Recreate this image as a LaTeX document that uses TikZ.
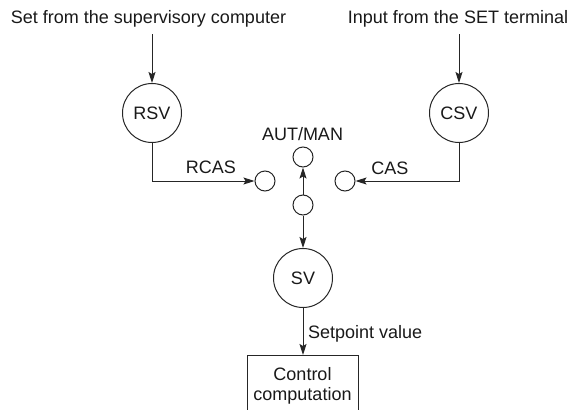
\documentclass[tikz,border=0pt]{standalone}
\usepackage{fontspec}
\setmainfont{Liberation Sans}
\usetikzlibrary{arrows.meta}
\begin{document}
\begin{tikzpicture}[x=1pt,y=-1pt,
  every node/.style={font=\fontsize{18}{21}\selectfont, text=black!90},
  ln/.style={draw=black!85, line width=1pt},
  arr/.style={ln, -{Stealth[length=11pt,width=7pt,inset=2pt]}},
  bigc/.style={circle, draw=black!85, line width=1pt, minimum size=59pt, inner sep=0pt},
  smc/.style={circle, draw=black!85, line width=1pt, minimum size=20pt, inner sep=0pt},
  lbl/.style={anchor=base, inner sep=0pt}]
\useasboundingbox (0,0) rectangle (574,410);
\clip (0,0) rectangle (574,410);
\node[lbl] (t1) at (148.5,23) {Set from the supervisory computer};
\node[lbl] (t2) at (458,23) {Input from the SET terminal};
\coordinate (s1) at (152,34);
\coordinate (s2) at (459,34);
\node[bigc] (rsv) at (152,113) {RSV};
\node[bigc] (csv) at (459,113) {CSV};
\node[smc] (l) at (265,181) {};
\node[smc] (r) at (345,181) {};
\node[smc] (a) at (303,157) {};
\node[smc] (p) at (303,205) {};
\node[bigc] (sv) at (303,278) {SV};
\node[lbl] (rcas) at (211,173) {RCAS};
\node[lbl] (cas) at (390,174) {CAS};
\node[lbl] (am) at (302.5,140) {AUT/MAN};
\node[lbl, anchor=base west] (spv) at (308,338) {Setpoint value};
\coordinate (bx1) at (247,355);
\coordinate (bx2) at (358,420);
\draw[ln] (bx1) rectangle (bx2);
\node[lbl] (c1) at (302.5,380) {Control};
\node[lbl] (c2) at (302.5,400) {computation};
\draw[arr] (s1) -- (rsv);
\draw[arr] (s2) -- (csv);
\draw[arr] (rsv.south) |- (l.west);
\draw[arr] (csv.south) |- (r.east);
\draw[arr] (p) -- (a);
\draw[arr] (p) -- (sv);
\draw[arr] (sv.south) -- (303,355);
\end{tikzpicture}
\end{document}
